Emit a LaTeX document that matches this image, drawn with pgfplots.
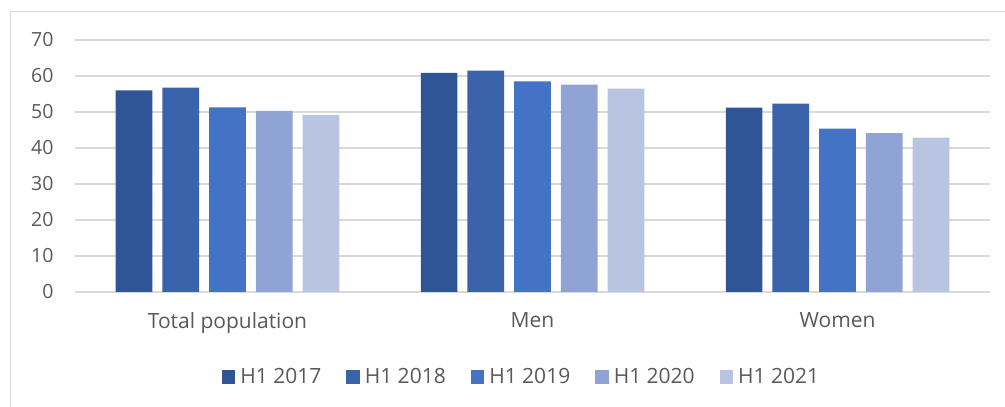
\documentclass[border=0pt]{standalone}
\usepackage{fontspec}
\setmainfont{Open Sans}
\usepackage{pgfplots}
\pgfplotsset{compat=1.18}
\definecolor{cA}{RGB}{47,85,151}
\definecolor{cB}{RGB}{58,99,172}
\definecolor{cC}{RGB}{68,114,196}
\definecolor{cD}{RGB}{143,164,212}
\definecolor{cE}{RGB}{185,196,226}
\definecolor{clrGrid}{RGB}{217,217,217}
\definecolor{clrText}{RGB}{89,89,89}
\definecolor{clrFrame}{RGB}{217,217,217}

\begin{document}
\begin{tikzpicture}
\useasboundingbox (0,0) rectangle (1005pt,407pt);
\draw[clrFrame, line width=1pt] (10.5pt,-5pt) -- (10.5pt,395.5pt) -- (1010pt,395.5pt);
\begin{axis}[
  at={(75pt,115pt)}, anchor=south west,
  scale only axis,
  width=915pt, height=252pt,
  ybar=10pt,
  bar width=36.7pt,
  xmin=-0.5, xmax=2.5,
  ymin=0, ymax=70,
  ytick={0,10,...,70},
  xtick=data,
  xticklabels={Total population,Men,Women},
  axis x line*=bottom,
  axis y line*=left,
  y axis line style={draw=none},
  x axis line style={clrGrid, line width=1.2pt},
  major tick length=0pt,
  ymajorgrids=true,
  grid style={clrGrid, line width=1.2pt},
  ticklabel style={color=clrText},
  yticklabel style={font=\fontsize{19.5}{23}\selectfont, xshift=-18pt},
  xticklabel style={font=\fontsize{21}{25}\selectfont, yshift=-17pt},
  /pgf/number format/assume math mode=true,
  legend style={draw=none, fill=none, font=\fontsize{21}{25}\selectfont, text=clrText,
    at={(0.488,-0.337)}, anchor=center, legend columns=5,
    /tikz/every even column/.append style={column sep=23pt}},
  legend image code/.code={\fill[#1] (0pt,-6.75pt) rectangle (13.5pt,6.75pt);
    \path (16.5pt,0pt);},
  every axis plot/.append style={draw=none},
]
\addplot[fill=cA] coordinates {(0,56.0) (1,60.9) (2,51.2)};
\addlegendentry{H1 2017}
\addplot[fill=cB] coordinates {(0,56.8) (1,61.5) (2,52.3)};
\addlegendentry{H1 2018}
\addplot[fill=cC] coordinates {(0,51.3) (1,58.5) (2,45.4)};
\addlegendentry{H1 2019}
\addplot[fill=cD] coordinates {(0,50.3) (1,57.6) (2,44.1)};
\addlegendentry{H1 2020}
\addplot[fill=cE] coordinates {(0,49.2) (1,56.5) (2,42.9)};
\addlegendentry{H1 2021}
\end{axis}
\end{tikzpicture}
\end{document}
